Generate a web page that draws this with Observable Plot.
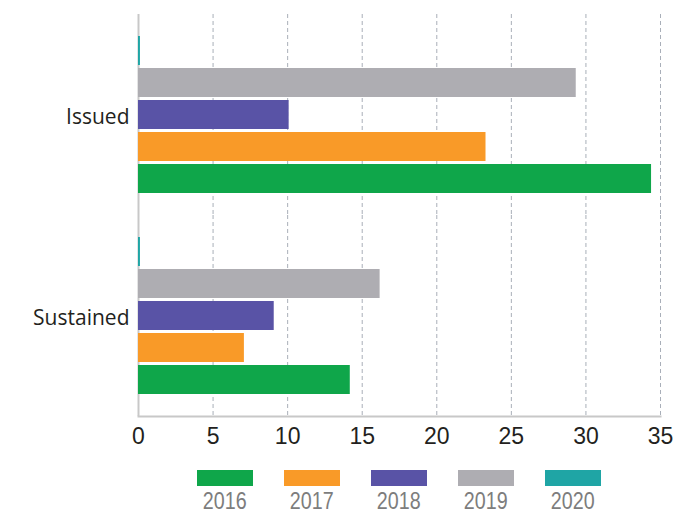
<!DOCTYPE html>
<html>
<head>
<meta charset="utf-8">
<script src="https://cdn.jsdelivr.net/npm/d3@7"></script>
<script src="https://cdn.jsdelivr.net/npm/@observablehq/plot@0.6"></script>
<style>
  html, body { margin: 0; padding: 0; background: #fff; }
  #legend { display: flex; gap: 31px; padding-left: 197px; margin-top: 18px; }
  .item { width: 56px; display: flex; flex-direction: column; align-items: center; }
  .sw { width: 56px; height: 16px; }
  .lab { margin-top: 5px; font-family: "Liberation Sans", Arial, sans-serif; font-size: 24px; line-height: 20px; color: #7d7d7d; white-space: nowrap; transform: scaleX(0.82); transform-origin: center; }
</style>
</head>
<body>
<div id="chart"></div>
<div id="legend"></div>
<script>
const categories = ["Issued", "Sustained"];
const years = ["2016", "2017", "2018", "2019", "2020"];
const issued = [34.4, 23.3, 10.1, 29.35, 0.13];
const sustained = [14.2, 7.1, 9.1, 16.2, 0.13];
const colors = ["#0fa64a", "#f99a28", "#5953a6", "#aeadb2", "#1fa5a5"];
const xTicks = [0, 5, 10, 15, 20, 25, 30, 35];

const series = {Issued: issued, Sustained: sustained};
const data = categories.flatMap(c => years.map((y, j) => ({category: c, year: y, value: series[c][j]})));

const plot = Plot.plot({
  width: 677,
  height: 452,
  marginLeft: 138,
  marginRight: 17,
  marginTop: 14,
  marginBottom: 36,
  x: {domain: [0, 35]},
  y: {domain: years.slice().reverse(), paddingInner: 0.09, paddingOuter: 0.6486, axis: null},
  fy: {domain: categories, padding: 0},
  color: {domain: years, range: colors},
  marks: [
    Plot.gridX(xTicks.filter(d => d > 0), {stroke: "#a9afb9", strokeOpacity: 1, strokeDasharray: "4,3", strokeWidth: 1}),
    Plot.ruleX([0], {stroke: "#c8c8c8", strokeWidth: 2}),
    Plot.frame({anchor: "bottom", facetAnchor: "bottom", stroke: "#c8c8c8", strokeWidth: 2}),
    Plot.barX(data, {fy: "category", y: "year", x: "value", fill: "year"}),
    Plot.axisX(xTicks, {tickSize: 0, tickPadding: 11, fontSize: 23, fontFamily: "Liberation Sans, Arial, sans-serif", fill: "#231f20", label: null}),
    Plot.axisFy({anchor: "left", tickSize: 0, tickPadding: 9, fontSize: 21, fontFamily: "Open Sans, sans-serif", fill: "#231f20", label: null, dy: 2})
  ]
});
document.getElementById("chart").appendChild(plot);

const legend = document.getElementById("legend");
years.forEach((y, i) => {
  const item = document.createElement("div");
  item.className = "item";
  const sw = document.createElement("div");
  sw.className = "sw";
  sw.style.background = colors[i];
  const lab = document.createElement("div");
  lab.className = "lab";
  lab.textContent = y;
  item.appendChild(sw);
  item.appendChild(lab);
  legend.appendChild(item);
});
</script>
</body>
</html>
